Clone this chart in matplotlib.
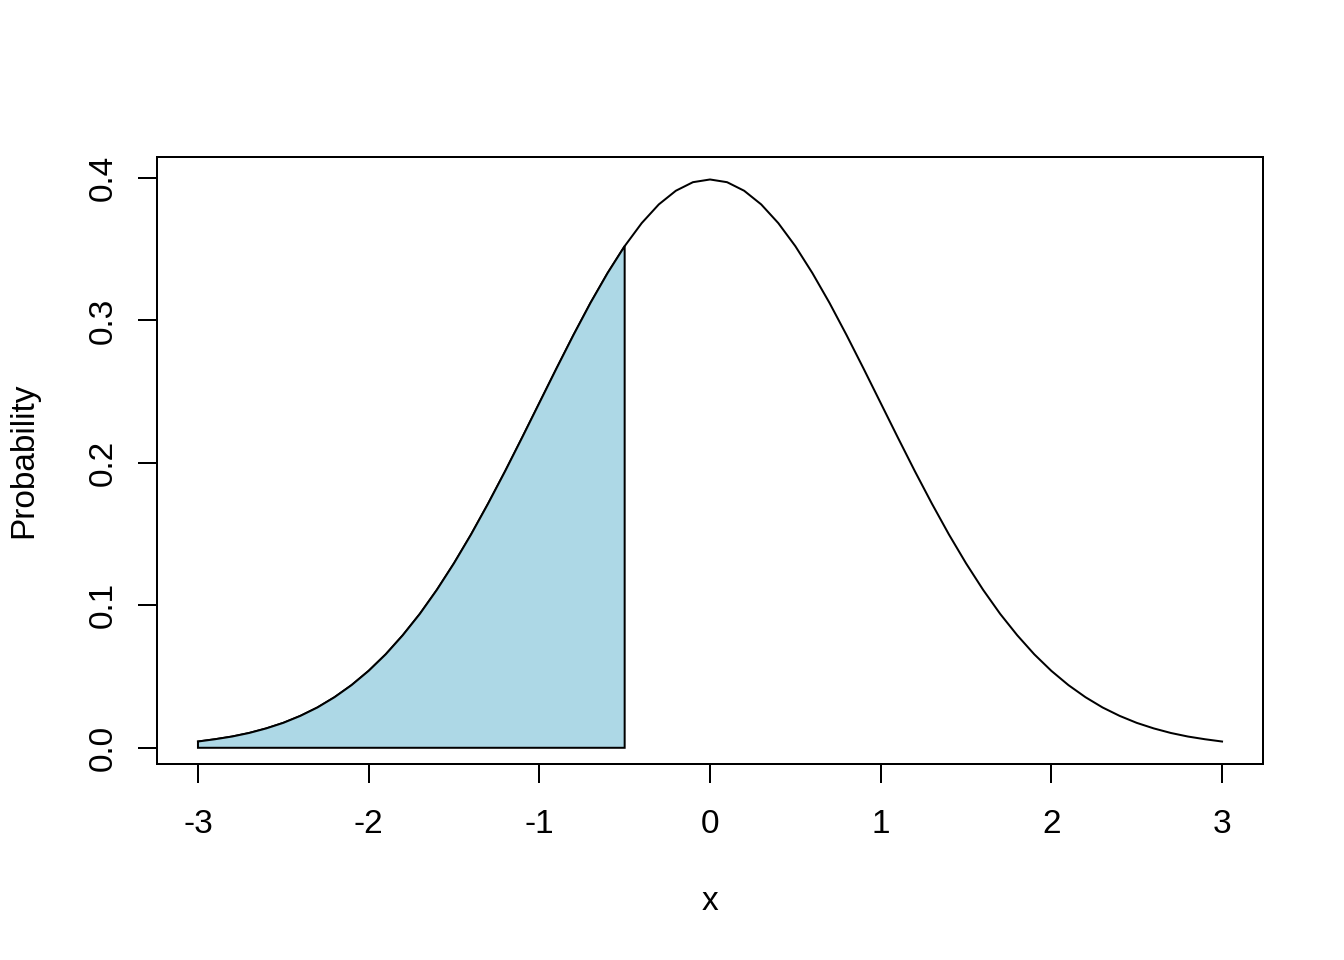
import numpy as np
import matplotlib
matplotlib.use("Agg")
import matplotlib.pyplot as plt

plt.rcParams['font.family'] = ['Liberation Sans', 'DejaVu Sans']

# curve (x step 0.1)
x = [-3.0, -2.9, -2.8, -2.7, -2.6, -2.5, -2.4, -2.3, -2.2, -2.1,
     -2.0, -1.9, -1.8, -1.7, -1.6, -1.5, -1.4, -1.3, -1.2, -1.1,
     -1.0, -0.9, -0.8, -0.7, -0.6, -0.5, -0.4, -0.3, -0.2, -0.1,
     0.0, 0.1, 0.2, 0.3, 0.4, 0.5, 0.6, 0.7, 0.8, 0.9,
     1.0, 1.1, 1.2, 1.3, 1.4, 1.5, 1.6, 1.7, 1.8, 1.9,
     2.0, 2.1, 2.2, 2.3, 2.4, 2.5, 2.6, 2.7, 2.8, 2.9, 3.0]
left = [0.0044, 0.0060, 0.0079, 0.0104, 0.0136, 0.0175, 0.0224, 0.0283, 0.0355, 0.0440,
        0.0540, 0.0656, 0.0790, 0.0940, 0.1109, 0.1295, 0.1497, 0.1714, 0.1942, 0.2179,
        0.2420, 0.2661, 0.2897, 0.3123, 0.3332, 0.3521, 0.3683, 0.3814, 0.3910, 0.3970]
peak = [0.3989]
y = left + peak + left[::-1]
cutoff = -0.5
xticks = [-3, -2, -1, 0, 1, 2, 3]
yticks = [0.0, 0.1, 0.2, 0.3, 0.4]

x = np.array(x)
y = np.array(y)

fig = plt.figure(figsize=(13.44, 9.6), dpi=100)
ax = fig.add_axes([157/1344, 1 - 764/960, (1263 - 157)/1344, (764 - 157)/960])

lw = 1.44
ax.plot(x, y, color='black', lw=lw)

# shaded area left of the cutoff
m = x <= cutoff + 1e-9
px = np.concatenate([[x[m][0]], x[m], [x[m][-1]], [x[m][0]]])
py = np.concatenate([[0], y[m], [0], [0]])
ax.fill(px, py, facecolor='#ADD8E6', edgecolor='black', lw=lw, zorder=3)

r = y.max() - y.min()
ax.set_xlim(-3.24, 3.24)
ax.set_ylim(y.min() - 0.04*r, y.max() + 0.04*r)

for s in ax.spines.values():
    s.set_linewidth(lw)

ax.set_xticks(xticks)
ax.set_xticklabels([str(t) for t in xticks])
ax.set_yticks(yticks)
ax.set_yticklabels(['%.1f' % t for t in yticks], rotation=90, va='center')
ax.tick_params(direction='out', length=13.5, width=lw, labelsize=24)
ax.tick_params(axis='x', pad=19)
ax.tick_params(axis='y', pad=14)

ax.set_xlabel('x', fontsize=24, labelpad=33)
ax.set_ylabel('Probability', fontsize=24, labelpad=35)

fig.savefig('out.png', dpi=100)
